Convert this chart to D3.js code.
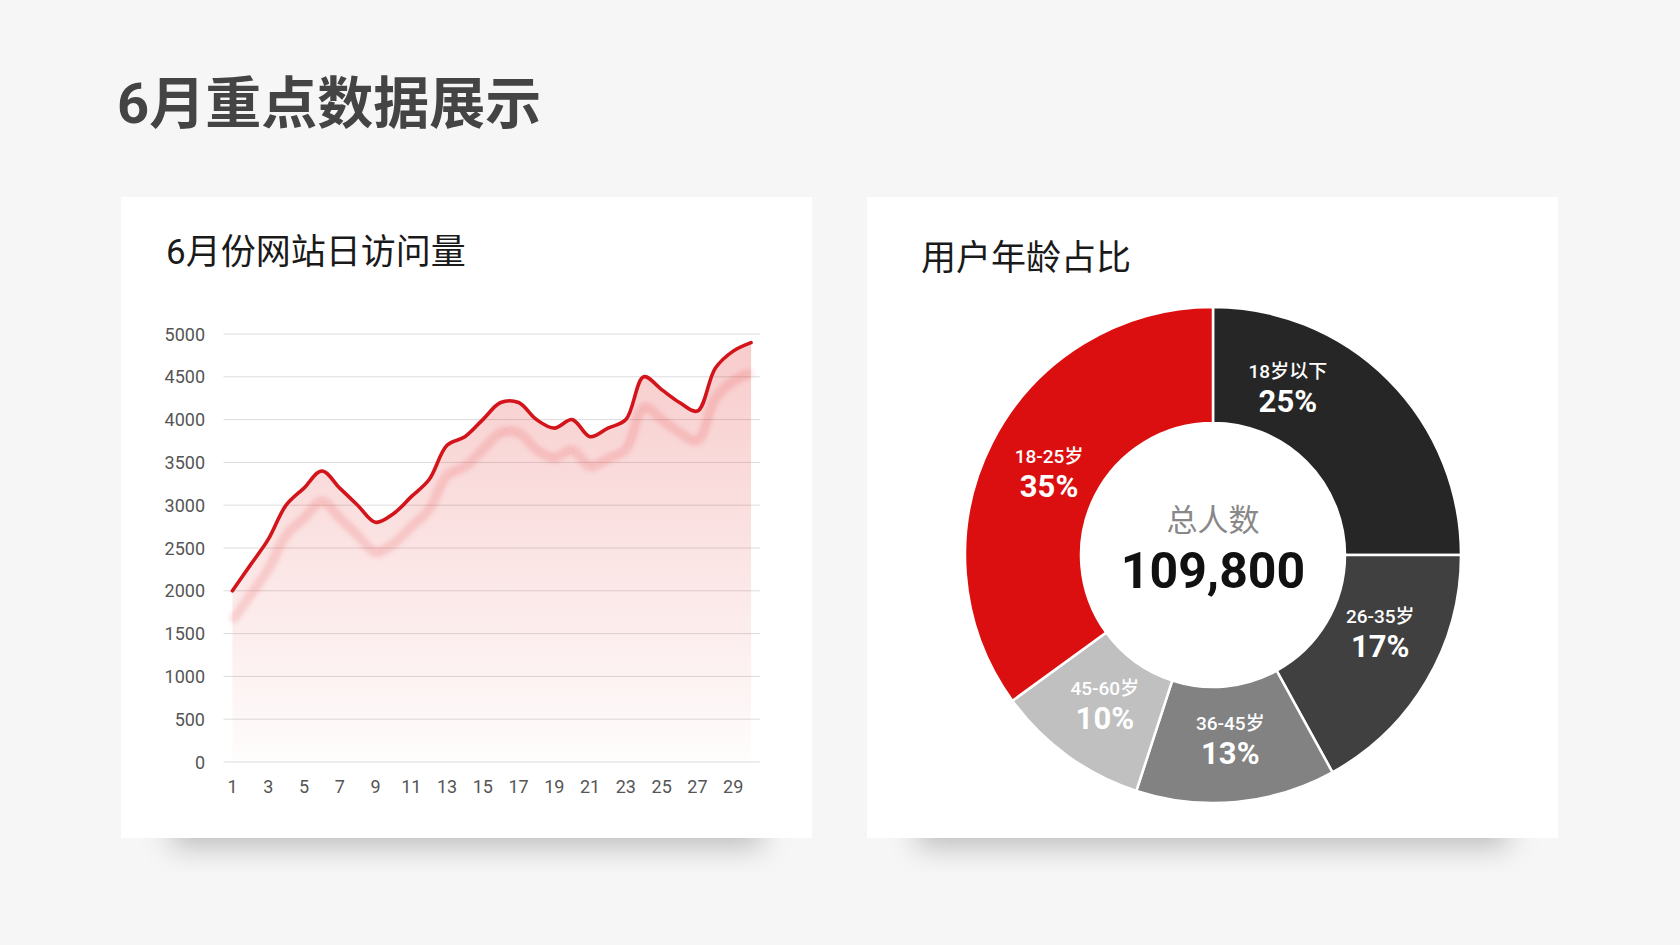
<!DOCTYPE html>
<html>
<head>
<meta charset="utf-8">
<script src="https://cdn.jsdelivr.net/npm/d3@7"></script>
<style>
  html, body { margin: 0; padding: 0; background: #f6f6f6; }
  svg { display: block; font-family: "Roboto", "Noto Sans CJK SC", sans-serif; }
</style>
</head>
<body>
<div id="wrapper"></div>
<script>
// data
const pageTitle = "6月重点数据展示"
const lineTitle = "6月份网站日访问量"
const pieTitle = "用户年龄占比"

const days = d3.range(1, 31)
const visits = [2000, 2300, 2600, 3000, 3200, 3400, 3200, 3000, 2800, 2900,
                3100, 3300, 3700, 3800, 4000, 4200, 4200, 4000, 3900, 4000,
                3800, 3900, 4000, 4500, 4350, 4200, 4100, 4600, 4800, 4900]
const yTicks = [0, 500, 1000, 1500, 2000, 2500, 3000, 3500, 4000, 4500, 5000]

const ageGroups = ["18岁以下", "26-35岁", "36-45岁", "45-60岁", "18-25岁"]
const agePercents = [25, 17, 13, 10, 35]
const totalLabel = "总人数"
const totalUsers = 109800

// layout
const width = 1680
const height = 945
const ageColors = ["#262626", "#404040", "#828282", "#c0c0c0", "#dc0f10"]
const labelShift = [-21, -6, 0, 0, 0]   // degrees, nudges the slice labels like the original

const svg = d3.select("#wrapper")
  .append("svg")
    .attr("width", width)
    .attr("height", height)

const defs = svg.append("defs")

svg.append("rect")
    .attr("width", width)
    .attr("height", height)
    .attr("fill", "#f6f6f6")

svg.append("text")
    .attr("x", 117)
    .attr("y", 104)
    .attr("dominant-baseline", "central")
    .attr("font-size", 56)
    .attr("font-weight", 700)
    .attr("fill", "#444")
    .text(pageTitle)

// panels with the soft shadow under them
defs.append("filter")
    .attr("id", "panel-shadow")
    .attr("x", "-20%").attr("y", "-50%").attr("width", "140%").attr("height", "200%")
  .append("feGaussianBlur")
    .attr("stdDeviation", 14)

const panels = [{x: 121, y: 197, w: 691, h: 641}, {x: 867, y: 197, w: 691, h: 641}]
panels.forEach(p => {
  svg.append("rect")
      .attr("x", p.x + 50)
      .attr("y", p.y + p.h - 40)
      .attr("width", p.w - 100)
      .attr("height", 50)
      .attr("fill", "rgba(0,0,0,0.22)")
      .attr("filter", "url(#panel-shadow)")
  svg.append("rect")
      .attr("x", p.x)
      .attr("y", p.y)
      .attr("width", p.w)
      .attr("height", p.h)
      .attr("fill", "#fff")
})

// 1. line chart
svg.append("text")
    .attr("x", 166)
    .attr("y", 252)
    .attr("dominant-baseline", "central")
    .attr("font-size", 35)
    .attr("fill", "#1a1a1a")
    .text(lineTitle)

const x = d3.scaleBand()
    .domain(days)
    .range([223.5, 760])
const xc = d => x(d) + x.bandwidth() / 2
const y = d3.scaleLinear()
    .domain([0, 5000])
    .range([762, 334])

const lineG = svg.append("g")

lineG.append("g")
  .selectAll("line")
  .data(yTicks)
  .join("line")
    .attr("x1", x.range()[0])
    .attr("x2", x.range()[1])
    .attr("y1", d => y(d))
    .attr("y2", d => y(d))
    .attr("stroke", "#dcdcdc")
    .attr("stroke-width", 1)

lineG.append("g")
  .selectAll("text")
  .data(yTicks)
  .join("text")
    .attr("x", 205)
    .attr("y", d => y(d))
    .attr("text-anchor", "end")
    .attr("dominant-baseline", "central")
    .attr("font-size", 18)
    .attr("fill", "#555")
    .text(d => d)

lineG.append("g")
  .selectAll("text")
  .data(days.filter((d, i) => i % 2 === 0))
  .join("text")
    .attr("x", d => xc(d))
    .attr("y", 786)
    .attr("text-anchor", "middle")
    .attr("dominant-baseline", "central")
    .attr("font-size", 18)
    .attr("fill", "#555")
    .text(d => d)

const gradient = defs.append("linearGradient")
    .attr("id", "area-gradient")
    .attr("gradientUnits", "userSpaceOnUse")
    .attr("x1", 0).attr("x2", 0)
    .attr("y1", y(5000)).attr("y2", y(0))
gradient.append("stop").attr("offset", "0%").attr("stop-color", "#dc1010").attr("stop-opacity", 0.22)
gradient.append("stop").attr("offset", "100%").attr("stop-color", "#dc1010").attr("stop-opacity", 0.01)

const curve = d3.curveCatmullRom.alpha(0.5)
const area = d3.area()
    .x((d, i) => xc(days[i]))
    .y0(y(0))
    .y1(d => y(d))
    .curve(curve)
const line = d3.line()
    .x((d, i) => xc(days[i]))
    .y(d => y(d))
    .curve(curve)

lineG.append("path")
    .attr("d", area(visits))
    .attr("fill", "url(#area-gradient)")

defs.append("filter")
    .attr("id", "line-blur")
    .attr("x", "-10%").attr("y", "-20%").attr("width", "120%").attr("height", "140%")
  .append("feGaussianBlur")
    .attr("stdDeviation", 3)

lineG.append("path")
    .attr("d", line(visits))
    .attr("transform", "translate(0,30)")
    .attr("fill", "none")
    .attr("stroke", "rgba(225,40,40,0.28)")
    .attr("stroke-width", 5)
    .attr("filter", "url(#line-blur)")

lineG.append("path")
    .attr("d", line(visits))
    .attr("fill", "none")
    .attr("stroke", "#d3141b")
    .attr("stroke-width", 3.6)
    .attr("stroke-linejoin", "round")
    .attr("stroke-linecap", "round")

// 2. donut
svg.append("text")
    .attr("x", 921)
    .attr("y", 258)
    .attr("dominant-baseline", "central")
    .attr("font-size", 35)
    .attr("fill", "#1a1a1a")
    .text(pieTitle)

const cx = 1213
const cy = 555
const outerR = 248
const innerR = 132
const labelR = 184

const pie = d3.pie().sort(null).value(d => d)
const arcs = pie(agePercents)
const arc = d3.arc().innerRadius(innerR).outerRadius(outerR)

const donut = svg.append("g")
    .attr("transform", `translate(${cx},${cy})`)

donut.selectAll("path")
  .data(arcs)
  .join("path")
    .attr("d", arc)
    .attr("fill", (d, i) => ageColors[i])
    .attr("stroke", "#fff")
    .attr("stroke-width", 2.5)
    .attr("stroke-linejoin", "round")

const labels = donut.selectAll(".slice-label")
  .data(arcs)
  .join("g")
    .attr("class", "slice-label")
    .attr("transform", (d, i) => {
      const a = (d.startAngle + d.endAngle) / 2 + labelShift[i] * Math.PI / 180
      return `translate(${labelR * Math.sin(a)},${-labelR * Math.cos(a)})`
    })

labels.append("text")
    .attr("y", -15)
    .attr("text-anchor", "middle")
    .attr("dominant-baseline", "central")
    .attr("font-size", 19)
    .attr("font-weight", 500)
    .attr("fill", "#fff")
    .text((d, i) => ageGroups[i])

labels.append("text")
    .attr("y", 15)
    .attr("text-anchor", "middle")
    .attr("dominant-baseline", "central")
    .attr("font-size", 31)
    .attr("font-weight", 700)
    .attr("fill", "#fff")
    .text(d => `${d.data}%`)

donut.append("text")
    .attr("y", -35)
    .attr("text-anchor", "middle")
    .attr("dominant-baseline", "central")
    .attr("font-size", 31)
    .attr("fill", "#888")
    .text(totalLabel)

donut.append("text")
    .attr("y", 16)
    .attr("text-anchor", "middle")
    .attr("dominant-baseline", "central")
    .attr("font-size", 50)
    .attr("font-weight", 700)
    .attr("fill", "#111")
    .text(d3.format(",")(totalUsers))
</script>
</body>
</html>
